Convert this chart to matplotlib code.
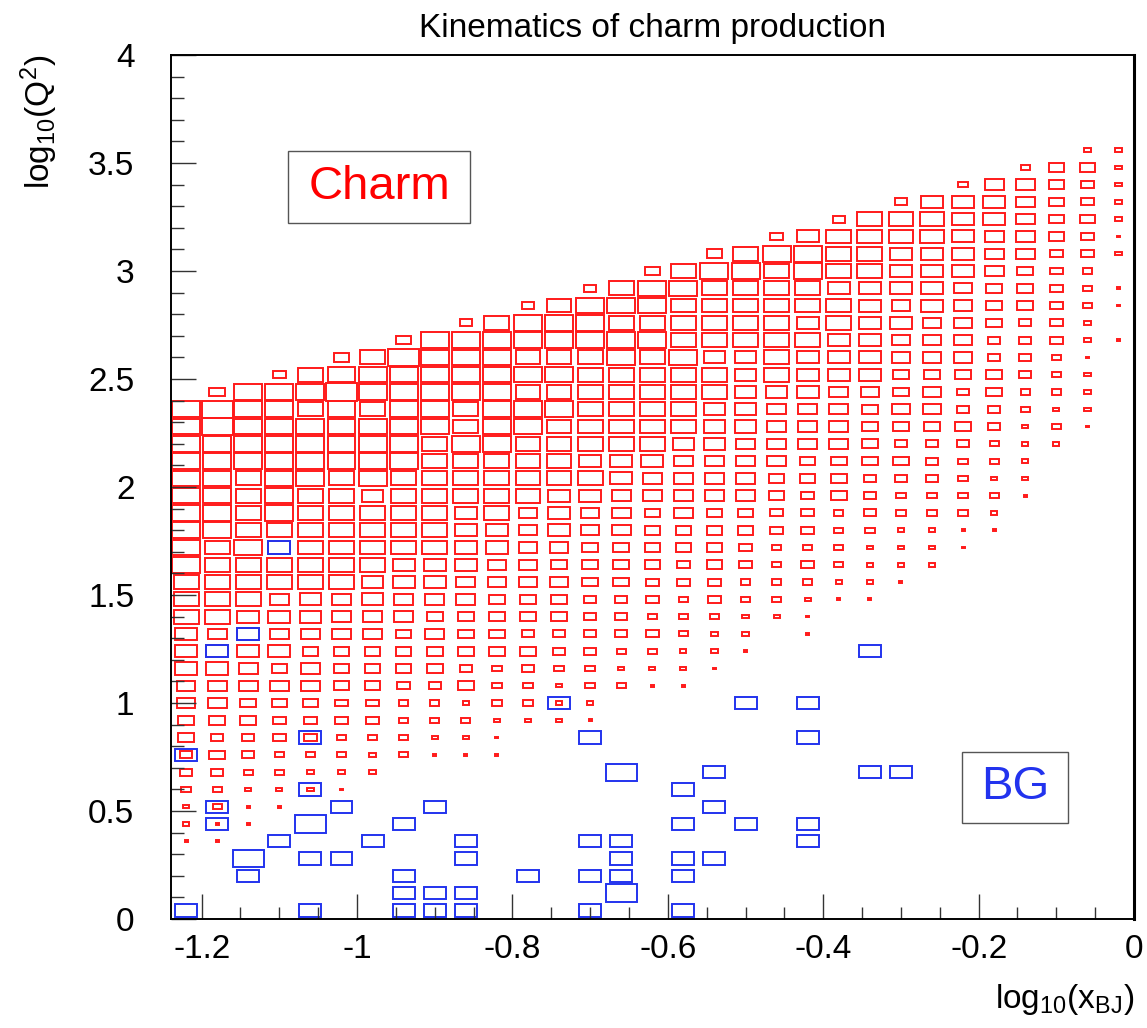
import numpy as np
import matplotlib
matplotlib.use('Agg')
import matplotlib.pyplot as plt
from matplotlib.patches import Rectangle
from matplotlib.ticker import MultipleLocator, FuncFormatter

plt.rcParams['font.family'] = ['Liberation Sans', 'DejaVu Sans']
plt.rcParams['mathtext.fontset'] = 'custom'
plt.rcParams['mathtext.rm'] = 'Liberation Sans'
plt.rcParams['mathtext.it'] = 'Liberation Sans:italic'
plt.rcParams['axes.unicode_minus'] = False

## ==============================================================
## histogram binning: log10(x_BJ) and log10(Q^2)
x_lo, x_bin = -1.24, 0.04
y_lo, y_bin = 0.0, 0.08

## charm (red) boxes, one entry per Q^2 row (top -> bottom)
## first column index of the row + box size (10 = full bin)
charm_rows = [44, 43, 42, 41, 40, 39, 38, 37, 36, 35, 34, 33, 32, 31, 30,
              29, 28, 27, 26, 25, 24, 23, 22, 21, 20, 19, 18, 17, 16, 15,
              14, 13, 12, 11, 10, 9, 8, 7, 6, 5, 4]
charm_first_col = [29, 27, 25, 23, 21, 19, 17, 15, 13, 11, 9, 7, 5, 3, 1,
                   0, 0, 0, 0, 0, 0, 0, 0, 0, 0, 0, 0, 0, 0, 0,
                   0, 0, 0, 0, 0, 0, 0, 0, 0, 0, 0]
charm_sizes = [
    [2, 2],
    [3, 5, 5, 2],
    [3, 6, 6, 5, 4, 2],
    [4, 7, 7, 7, 6, 5, 4, 2],
    [4, 8, 8, 8, 7, 7, 6, 5, 5, 2],
    [4, 7, 8, 8, 8, 8, 7, 6, 6, 5, 4, 1],
    [5, 8, 9, 9, 8, 8, 7, 7, 7, 6, 6, 4, 4, 2],
    [5, 8, 9, 9, 8, 9, 8, 8, 7, 7, 7, 6, 5, 4, 3, 0],
    [4, 8, 9, 9, 8, 8, 8, 8, 7, 7, 7, 7, 6, 5, 5, 4, 3, 1],
    [4, 8, 9, 9, 9, 8, 8, 8, 8, 8, 8, 7, 6, 7, 6, 5, 5, 4, 3, 1],
    [4, 8, 9, 9, 9, 8, 8, 8, 8, 8, 8, 7, 8, 7, 7, 6, 6, 5, 4, 4, 2, 0],
    [5, 9, 9, 9, 9, 9, 9, 9, 9, 8, 8, 8, 8, 8, 7, 7, 6, 6, 6, 4, 4, 4, 2, 1],
    [5, 8, 10, 9, 9, 9, 8, 8, 8, 9, 8, 9, 7, 7, 8, 7, 7, 7, 6, 6, 6, 4, 4, 3, 1, 0],
    [4, 8, 9, 9, 9, 9, 9, 9, 9, 9, 8, 8, 8, 8, 8, 7, 8, 7, 7, 7, 5, 5, 5, 5, 4, 3, 2, 0],
    [5, 9, 9, 9, 10, 9, 9, 9, 9, 9, 8, 8, 8, 8, 8, 8, 8, 7, 7, 7, 6, 6, 5, 6, 4, 5, 3, 3, 2, 0],
    [9, 10, 9, 9, 8, 9, 8, 9, 9, 8, 9, 9, 9, 8, 8, 8, 8, 7, 7, 6, 6, 6, 5, 6, 6, 4, 4, 3, 2, 2, 0],
    [9, 10, 9, 9, 9, 9, 9, 9, 9, 8, 9, 9, 8, 8, 8, 8, 8, 7, 7, 6, 6, 6, 5, 5, 5, 5, 4, 2, 3, 1],
    [9, 9, 9, 9, 9, 9, 9, 9, 8, 9, 9, 8, 8, 8, 8, 8, 7, 7, 6, 6, 6, 6, 5, 4, 4, 4, 3, 2, 2],
    [9, 9, 9, 9, 9, 9, 9, 9, 8, 8, 8, 8, 8, 7, 7, 7, 6, 6, 6, 6, 5, 5, 5, 5, 4, 3, 3, 2],
    [9, 9, 8, 9, 9, 8, 9, 8, 8, 8, 8, 8, 8, 8, 7, 6, 6, 6, 6, 5, 5, 5, 4, 4, 4, 3, 2, 2],
    [9, 9, 8, 9, 8, 8, 7, 8, 8, 8, 8, 8, 7, 7, 6, 6, 6, 6, 6, 5, 4, 5, 4, 3, 3, 3, 3, 1],
    [9, 9, 8, 9, 8, 8, 8, 8, 8, 7, 8, 6, 7, 6, 6, 5, 6, 5, 5, 4, 4, 3, 4, 3, 3, 3, 2],
    [9, 9, 8, 8, 8, 8, 8, 8, 8, 7, 7, 6, 7, 6, 6, 5, 5, 5, 5, 4, 4, 3, 3, 2, 2, 1, 1],
    [9, 8, 9, 7, 8, 8, 8, 8, 8, 7, 7, 6, 6, 5, 5, 5, 5, 5, 4, 3, 3, 3, 2, 2, 2, 1],
    [9, 8, 8, 8, 8, 8, 8, 7, 7, 7, 6, 6, 5, 5, 5, 5, 4, 5, 4, 3, 4, 3, 2, 2, 2],
    [8, 8, 8, 8, 8, 8, 7, 7, 7, 6, 6, 6, 6, 5, 5, 4, 4, 4, 3, 3, 3, 2, 2, 1],
    [8, 8, 8, 6, 7, 6, 7, 6, 6, 6, 5, 5, 5, 4, 4, 4, 3, 4, 3, 3, 2, 1, 1],
    [8, 8, 7, 7, 7, 6, 6, 6, 5, 5, 5, 5, 5, 4, 4, 3, 3, 3, 2, 2, 1],
    [7, 6, 7, 6, 6, 6, 6, 5, 6, 5, 5, 4, 4, 4, 4, 4, 3, 2, 2, 0, 1],
    [7, 7, 7, 7, 5, 5, 5, 5, 5, 5, 5, 5, 4, 4, 3, 3, 2, 2, 1],
    [7, 7, 6, 5, 6, 5, 5, 5, 5, 4, 3, 4, 3, 3, 2, 2, 2, 1],
    [6, 6, 6, 6, 6, 5, 5, 4, 4, 5, 3, 3, 2, 3, 3, 1, 1],
    [6, 6, 5, 5, 5, 4, 4, 3, 3, 2, 3, 3, 2, 2],
    [5, 5, 5, 4, 4, 4, 4, 3, 3, 3, 2, 2, 2, 1],
    [5, 4, 4, 4, 4, 3, 3, 3, 2, 2, 1],
    [4, 5, 4, 3, 3, 3, 2, 3, 1, 1, 1],
    [4, 4, 3, 3, 2, 2, 2],
    [3, 3, 2, 2, 2, 1],
    [2, 3, 1, 1],
    [2, 1, 1],
    [1, 1],
]

## background (blue) boxes: column, row, entries
bg_cols = [1, 2, 3, 4, 0, 4, 1, 5, 8, 1, 4, 7, 3, 6, 9, 2, 4, 5, 9, 2, 7, 11,
           7, 8, 9, 0, 4, 7, 8, 9,
           22, 12, 18, 20, 13, 20, 14, 17, 22, 23, 16, 17, 16, 18, 20, 13, 14,
           20, 14, 16, 17, 13, 14, 16, 14, 13, 16]
bg_rows = [15, 16, 21, 10, 9, 7, 6, 6, 6, 5, 5, 5, 4, 4, 4, 3, 3, 3, 3, 2, 2, 2,
           1, 1, 1, 0, 0, 0, 0, 0,
           15, 12, 12, 12, 10, 10, 8, 8, 8, 8, 7, 6, 5, 5, 5, 4, 4,
           4, 3, 3, 3, 2, 2, 2, 1, 0, 0]
bg_counts = [1, 1, 1, 1, 1, 1, 1, 1, 1, 1, 2, 1, 1, 1, 1, 2, 1, 1, 1, 1, 1, 1,
             1, 1, 1, 1, 1, 1, 1, 1,
             1, 1, 1, 1, 1, 1, 2, 1, 1, 1, 1, 1, 1, 1, 1, 1, 1,
             1, 1, 1, 1, 1, 1, 1, 2, 1, 1]

# ==============================================================
fig = plt.figure(figsize=(11.47, 10.28), dpi=100)
ax = fig.add_axes([0.1487, 0.1060, 0.8400, 0.8405])


def add_box(col, row, frac, color):
    xc = x_lo + (col + 0.5) * x_bin
    yc = y_lo + (row + 0.5) * y_bin
    w = frac * x_bin
    h = frac * y_bin
    ax.add_patch(Rectangle((xc - w / 2, yc - h / 2), w, h, fill=False,
                           edgecolor=color, linewidth=1.4))


## charm boxes
for row, c0, sizes in zip(charm_rows, charm_first_col, charm_sizes):
    for k, s in enumerate(sizes):
        if s == 0:
            continue
        add_box(c0 + k, row, s / 10.0, '#ff1a1a')

## background boxes, drawn on top, size ~ sqrt(content/max)
bg_max = max(bg_counts)
for col, row, n in zip(bg_cols, bg_rows, bg_counts):
    add_box(col, row, np.sqrt(n / bg_max), '#2233ee')

ax.set_xlim(-1.24, 0)
ax.set_ylim(0, 4)

## ticks like ROOT: inside, bottom/left only
ax.xaxis.set_major_locator(MultipleLocator(0.2))
ax.xaxis.set_minor_locator(MultipleLocator(0.05))
ax.yaxis.set_major_locator(MultipleLocator(0.5))
ax.yaxis.set_minor_locator(MultipleLocator(0.1))
fmt = FuncFormatter(lambda v, p: '%g' % round(v, 2))
ax.xaxis.set_major_formatter(fmt)
ax.yaxis.set_major_formatter(fmt)
ax.tick_params(which='both', direction='in', top=False, right=False,
               color='#333333', width=1.0)
ax.tick_params(which='major', length=18, labelsize=24)
ax.tick_params(which='minor', length=9)
ax.tick_params(axis='x', which='major', pad=11)
ax.tick_params(axis='y', which='major', pad=26)
for sp in ax.spines.values():
    sp.set_linewidth(1.4)
ax.spines['right'].set_linewidth(2.2)

ax.set_title('Kinematics of charm production', fontsize=24, pad=13)
ax.set_xlabel('log$_{10}$(x$_{\\mathrm{BJ}}$)', fontsize=24, loc='right', labelpad=12)
ax.set_ylabel('log$_{10}$(Q$^{2}$)', fontsize=24, loc='top', labelpad=20)

## legend-like labels
ax.add_patch(Rectangle((0.122, 0.8056), 0.1888, 0.0833, transform=ax.transAxes,
                       fill=False, edgecolor='#555555', linewidth=1.0))
ax.text(0.2164, 0.847, 'Charm', transform=ax.transAxes, color='red',
        fontsize=34, ha='center', va='center')
ax.add_patch(Rectangle((0.8215, 0.1111), 0.1100, 0.0822, transform=ax.transAxes,
                       fill=False, edgecolor='#555555', linewidth=1.0))
ax.text(0.8765, 0.1528, 'BG', transform=ax.transAxes, color='#2233ee',
        fontsize=34, ha='center', va='center')

fig.savefig('out.png', dpi=100)
